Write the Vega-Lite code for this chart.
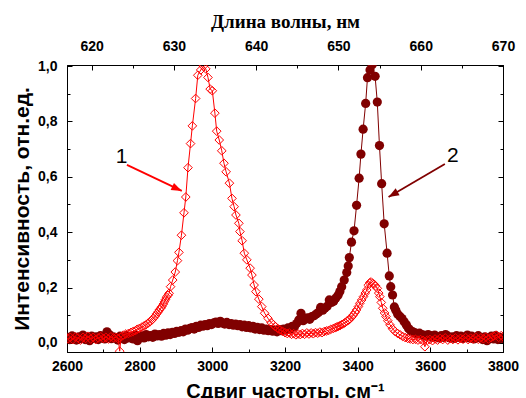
{
  "$schema": "https://vega.github.io/schema/vega-lite/v6.json",
  "width": 436,
  "height": 287,
  "autosize": "none",
  "padding": {"left": 67, "top": 65, "right": 23, "bottom": 46},
  "background": "white",
  "config": {
    "view": {"stroke": "black", "strokeWidth": 1},
    "axis": {
      "grid": false,
      "domainColor": "black",
      "tickColor": "black",
      "labelColor": "black",
      "titleColor": "black",
      "labelFont": "Liberation Sans",
      "labelFontWeight": "bold",
      "labelFontSize": 14,
      "titleFont": "Liberation Sans",
      "titleFontWeight": "bold",
      "titleFontSize": 20,
      "labelFlush": false,
      "labelOverlap": false,
      "labelBound": false
    }
  },
  "datasets": {
    "s1": [
      {"x":2602,"y":0.015},{"x":2609,"y":0.02},{"x":2616,"y":0.012},{"x":2623,"y":0.022},{"x":2630,"y":0.018},{"x":2637,"y":0.01},{"x":2644,"y":0.02},{"x":2651,"y":0.016},{"x":2658,"y":0.024},{"x":2665,"y":0.014},{"x":2672,"y":0.02},{"x":2679,"y":0.012},{"x":2686,"y":0.018},{"x":2693,"y":0.022},{"x":2700,"y":0.016},{"x":2707,"y":0.02},{"x":2714,"y":0.014},{"x":2721,"y":0.022},{"x":2728,"y":0.018},{"x":2735,"y":0.02},{"x":2741,"y":0.015},{"x":2745,"y":-0.03},{"x":2749,"y":0.022},{"x":2755,"y":0.028},{"x":2762,"y":0.032},{"x":2769,"y":0.034},{"x":2776,"y":0.038},{"x":2782,"y":0.041},{"x":2788,"y":0.044},{"x":2793,"y":0.049},{"x":2799,"y":0.052},{"x":2806,"y":0.057},{"x":2812,"y":0.061},{"x":2817,"y":0.065},{"x":2823,"y":0.071},{"x":2829,"y":0.077},{"x":2834,"y":0.083},{"x":2838,"y":0.089},{"x":2843,"y":0.097},{"x":2847,"y":0.105},{"x":2851,"y":0.112},{"x":2854,"y":0.119},{"x":2858,"y":0.125},{"x":2861,"y":0.131},{"x":2865,"y":0.14},{"x":2868,"y":0.148},{"x":2871,"y":0.156},{"x":2874,"y":0.165},{"x":2878,"y":0.172},{"x":2881,"y":0.179},{"x":2885,"y":0.203},{"x":2891,"y":0.227},{"x":2898,"y":0.256},{"x":2904,"y":0.297},{"x":2908,"y":0.327},{"x":2915,"y":0.389},{"x":2922,"y":0.47},{"x":2927,"y":0.527},{"x":2933,"y":0.633},{"x":2940,"y":0.72},{"x":2945,"y":0.784},{"x":2954,"y":0.883},{"x":2960,"y":0.967},{"x":2968,"y":0.986},{"x":2975,"y":1.0},{"x":2982,"y":0.99},{"x":2988,"y":0.959},{"x":2994,"y":0.917},{"x":3000,"y":0.911},{"x":3007,"y":0.83},{"x":3012,"y":0.765},{"x":3019,"y":0.733},{"x":3026,"y":0.694},{"x":3032,"y":0.649},{"x":3038,"y":0.618},{"x":3047,"y":0.577},{"x":3054,"y":0.522},{"x":3060,"y":0.492},{"x":3065,"y":0.462},{"x":3073,"y":0.432},{"x":3076,"y":0.402},{"x":3082,"y":0.369},{"x":3088,"y":0.324},{"x":3095,"y":0.3},{"x":3104,"y":0.27},{"x":3109,"y":0.245},{"x":3115,"y":0.209},{"x":3120,"y":0.185},{"x":3128,"y":0.158},{"x":3136,"y":0.131},{"x":3144,"y":0.107},{"x":3153,"y":0.089},{"x":3162,"y":0.073},{"x":3168,"y":0.066},{"x":3173,"y":0.059},{"x":3180,"y":0.052},{"x":3186,"y":0.047},{"x":3193,"y":0.042},{"x":3200,"y":0.037},{"x":3206,"y":0.034},{"x":3212,"y":0.036},{"x":3218,"y":0.031},{"x":3224,"y":0.033},{"x":3230,"y":0.029},{"x":3236,"y":0.032},{"x":3242,"y":0.03},{"x":3248,"y":0.034},{"x":3254,"y":0.031},{"x":3260,"y":0.036},{"x":3266,"y":0.032},{"x":3272,"y":0.036},{"x":3278,"y":0.033},{"x":3284,"y":0.037},{"x":3290,"y":0.035},{"x":3296,"y":0.039},{"x":3302,"y":0.037},{"x":3308,"y":0.041},{"x":3314,"y":0.043},{"x":3320,"y":0.045},{"x":3326,"y":0.049},{"x":3333,"y":0.052},{"x":3338,"y":0.055},{"x":3342,"y":0.057},{"x":3347,"y":0.06},{"x":3351,"y":0.062},{"x":3356,"y":0.066},{"x":3361,"y":0.069},{"x":3365,"y":0.073},{"x":3370,"y":0.078},{"x":3375,"y":0.082},{"x":3379,"y":0.087},{"x":3384,"y":0.094},{"x":3388,"y":0.101},{"x":3393,"y":0.11},{"x":3397,"y":0.119},{"x":3402,"y":0.131},{"x":3406,"y":0.143},{"x":3411,"y":0.155},{"x":3416,"y":0.167},{"x":3421,"y":0.18},{"x":3425,"y":0.191},{"x":3429,"y":0.208},{"x":3433,"y":0.217},{"x":3437,"y":0.22},{"x":3441,"y":0.215},{"x":3445,"y":0.212},{"x":3449,"y":0.206},{"x":3454,"y":0.197},{"x":3458,"y":0.18},{"x":3461,"y":0.167},{"x":3465,"y":0.146},{"x":3469,"y":0.125},{"x":3474,"y":0.108},{"x":3478,"y":0.095},{"x":3483,"y":0.08},{"x":3489,"y":0.065},{"x":3496,"y":0.051},{"x":3503,"y":0.041},{"x":3510,"y":0.034},{"x":3517,"y":0.029},{"x":3524,"y":0.023},{"x":3531,"y":0.019},{"x":3538,"y":0.016},{"x":3545,"y":0.014},{"x":3552,"y":0.012},{"x":3559,"y":0.013},{"x":3566,"y":0.01},{"x":3573,"y":0.012},{"x":3580,"y":0.009},{"x":3585,"y":-0.014},{"x":3592,"y":0.01},{"x":3599,"y":0.012},{"x":3606,"y":0.008},{"x":3613,"y":0.014},{"x":3620,"y":0.01},{"x":3627,"y":0.016},{"x":3634,"y":0.012},{"x":3641,"y":0.018},{"x":3648,"y":0.01},{"x":3655,"y":0.015},{"x":3662,"y":0.012},{"x":3669,"y":0.018},{"x":3676,"y":0.011},{"x":3683,"y":0.016},{"x":3690,"y":0.013},{"x":3697,"y":0.019},{"x":3704,"y":0.012},{"x":3711,"y":0.017},{"x":3718,"y":0.014},{"x":3725,"y":0.02},{"x":3732,"y":0.013},{"x":3739,"y":0.018},{"x":3746,"y":0.015},{"x":3753,"y":0.021},{"x":3760,"y":0.014},{"x":3767,"y":0.019},{"x":3774,"y":0.024},{"x":3781,"y":0.028},{"x":3788,"y":0.02},{"x":3795,"y":0.026},{"x":3800,"y":0.022}
    ],
    "s2": [
      {"x":2602,"y":0.02},{"x":2608,"y":0.012},{"x":2614,"y":0.025},{"x":2620,"y":0.018},{"x":2626,"y":0.01},{"x":2632,"y":0.022},{"x":2638,"y":0.015},{"x":2644,"y":0.028},{"x":2650,"y":0.012},{"x":2656,"y":0.02},{"x":2662,"y":0.008},{"x":2668,"y":0.024},{"x":2674,"y":0.016},{"x":2680,"y":0.022},{"x":2686,"y":0.012},{"x":2692,"y":0.026},{"x":2698,"y":0.018},{"x":2704,"y":0.014},{"x":2710,"y":0.04},{"x":2716,"y":0.03},{"x":2722,"y":0.015},{"x":2728,"y":0.022},{"x":2734,"y":0.018},{"x":2740,"y":0.01},{"x":2746,"y":0.024},{"x":2752,"y":0.02},{"x":2758,"y":0.012},{"x":2764,"y":0.026},{"x":2770,"y":0.018},{"x":2776,"y":0.022},{"x":2782,"y":0.014},{"x":2788,"y":0.028},{"x":2794,"y":0.008},{"x":2800,"y":0.02},{"x":2806,"y":0.025},{"x":2812,"y":0.018},{"x":2818,"y":0.03},{"x":2824,"y":0.022},{"x":2830,"y":0.026},{"x":2836,"y":0.02},{"x":2842,"y":0.032},{"x":2848,"y":0.025},{"x":2854,"y":0.03},{"x":2860,"y":0.024},{"x":2866,"y":0.034},{"x":2872,"y":0.028},{"x":2878,"y":0.036},{"x":2884,"y":0.03},{"x":2890,"y":0.038},{"x":2896,"y":0.034},{"x":2902,"y":0.042},{"x":2908,"y":0.038},{"x":2914,"y":0.044},{"x":2920,"y":0.04},{"x":2926,"y":0.05},{"x":2932,"y":0.046},{"x":2938,"y":0.052},{"x":2944,"y":0.055},{"x":2950,"y":0.05},{"x":2956,"y":0.06},{"x":2962,"y":0.056},{"x":2968,"y":0.064},{"x":2974,"y":0.06},{"x":2980,"y":0.066},{"x":2986,"y":0.062},{"x":2992,"y":0.07},{"x":2998,"y":0.066},{"x":3004,"y":0.072},{"x":3010,"y":0.075},{"x":3016,"y":0.07},{"x":3022,"y":0.078},{"x":3028,"y":0.072},{"x":3034,"y":0.068},{"x":3040,"y":0.074},{"x":3046,"y":0.066},{"x":3052,"y":0.07},{"x":3058,"y":0.064},{"x":3064,"y":0.068},{"x":3070,"y":0.062},{"x":3076,"y":0.066},{"x":3082,"y":0.058},{"x":3088,"y":0.064},{"x":3094,"y":0.056},{"x":3100,"y":0.062},{"x":3106,"y":0.054},{"x":3112,"y":0.06},{"x":3118,"y":0.05},{"x":3124,"y":0.056},{"x":3130,"y":0.048},{"x":3136,"y":0.054},{"x":3142,"y":0.046},{"x":3148,"y":0.05},{"x":3154,"y":0.044},{"x":3160,"y":0.048},{"x":3166,"y":0.042},{"x":3172,"y":0.046},{"x":3178,"y":0.04},{"x":3184,"y":0.048},{"x":3190,"y":0.044},{"x":3196,"y":0.05},{"x":3202,"y":0.046},{"x":3208,"y":0.054},{"x":3214,"y":0.05},{"x":3220,"y":0.06},{"x":3226,"y":0.058},{"x":3232,"y":0.07},{"x":3238,"y":0.083},{"x":3244,"y":0.107},{"x":3250,"y":0.08},{"x":3256,"y":0.086},{"x":3262,"y":0.09},{"x":3268,"y":0.085},{"x":3274,"y":0.095},{"x":3280,"y":0.098},{"x":3286,"y":0.104},{"x":3292,"y":0.11},{"x":3298,"y":0.128},{"x":3304,"y":0.118},{"x":3310,"y":0.126},{"x":3316,"y":0.132},{"x":3322,"y":0.155},{"x":3328,"y":0.146},{"x":3334,"y":0.15},{"x":3340,"y":0.162},{"x":3346,"y":0.172},{"x":3351,"y":0.186},{"x":3356,"y":0.203},{"x":3363,"y":0.227},{"x":3370,"y":0.254},{"x":3374,"y":0.278},{"x":3377,"y":0.308},{"x":3383,"y":0.364},{"x":3390,"y":0.405},{"x":3397,"y":0.497},{"x":3404,"y":0.595},{"x":3409,"y":0.682},{"x":3415,"y":0.772},{"x":3422,"y":0.865},{"x":3427,"y":0.958},{"x":3434,"y":0.986},{"x":3440,"y":1.005},{"x":3448,"y":0.963},{"x":3454,"y":0.87},{"x":3460,"y":0.713},{"x":3466,"y":0.575},{"x":3473,"y":0.43},{"x":3481,"y":0.324},{"x":3487,"y":0.242},{"x":3491,"y":0.203},{"x":3496,"y":0.173},{"x":3501,"y":0.13},{"x":3505,"y":0.118},{"x":3510,"y":0.104},{"x":3516,"y":0.096},{"x":3522,"y":0.088},{"x":3528,"y":0.076},{"x":3534,"y":0.065},{"x":3540,"y":0.052},{"x":3546,"y":0.044},{"x":3552,"y":0.04},{"x":3558,"y":0.036},{"x":3564,"y":0.032},{"x":3570,"y":0.035},{"x":3576,"y":0.03},{"x":3582,"y":0.028},{"x":3588,"y":0.024},{"x":3594,"y":0.03},{"x":3600,"y":0.026},{"x":3606,"y":0.02},{"x":3612,"y":0.028},{"x":3618,"y":0.022},{"x":3624,"y":0.018},{"x":3630,"y":0.026},{"x":3636,"y":0.02},{"x":3642,"y":0.03},{"x":3648,"y":0.024},{"x":3654,"y":0.018},{"x":3660,"y":0.022},{"x":3666,"y":0.016},{"x":3672,"y":0.026},{"x":3678,"y":0.02},{"x":3684,"y":0.024},{"x":3690,"y":0.016},{"x":3696,"y":0.022},{"x":3702,"y":0.028},{"x":3708,"y":0.018},{"x":3714,"y":0.024},{"x":3720,"y":0.014},{"x":3726,"y":0.02},{"x":3732,"y":0.026},{"x":3738,"y":0.018},{"x":3744,"y":0.012},{"x":3750,"y":0.022},{"x":3756,"y":0.008},{"x":3762,"y":0.016},{"x":3768,"y":0.024},{"x":3774,"y":0.014},{"x":3780,"y":0.026},{"x":3786,"y":0.012},{"x":3792,"y":0.02},{"x":3798,"y":0.016}
    ],
    "arrows": [
      {"id":"1","x":2765,"y":0.643,"x2":2916,"y2":0.549},
      {"id":"2","x":3640,"y":0.646,"x2":3485,"y2":0.527}
    ],
    "heads": [
      {"id":"1","x":2916,"y":0.549},
      {"id":"2","x":3485,"y":0.527}
    ],
    "labels": [
      {"t":"1","x":2750,"y":0.673},
      {"t":"2","x":3662,"y":0.675}
    ],
    "top": [
      {"nm":620,"r":0.5}
    ]
  },
  "layer": [
    {
      "encoding": {
        "x": {
          "field": "x", "type": "quantitative",
          "scale": {"domain": [2600, 3800], "nice": false, "zero": false},
          "axis": {
            "orient": "bottom",
            "values": [2600,2700,2800,2900,3000,3100,3200,3300,3400,3500,3600,3700,3800],
            "labelExpr": "datum.value % 200 === 0 ? format(datum.value, 'd') : ''",
            "tickSize": {"condition": {"test": "datum.value % 200 === 0", "value": -5}, "value": -3},
            "labelPadding": 12,
            "title": "Сдвиг частоты, см⁻¹",
            "titlePadding": 6
          }
        },
        "y": {
          "field": "y", "type": "quantitative",
          "scale": {"domain": [-0.033, 1.004], "nice": false, "zero": false},
          "axis": {
            "orient": "left",
            "values": [0,0.1,0.2,0.3,0.4,0.5,0.6,0.7,0.8,0.9,1.0],
            "labelExpr": "round(datum.value*10) % 2 === 0 ? replace(format(datum.value, '.1f'), '.', ',') : ''",
            "tickSize": {"condition": {"test": "round(datum.value*10) % 2 === 0", "value": -5}, "value": -3},
            "labelPadding": 15,
            "title": "Интенсивность, отн.ед.",
            "titleFontSize": 21,
            "titlePadding": 5
          }
        }
      },
      "layer": [
        {"data": {"name": "s2"}, "mark": {"type": "line", "color": "#800000", "strokeWidth": 1, "clip": true}},
        {"data": {"name": "s2"}, "mark": {"type": "point", "shape": "circle", "filled": true, "color": "#800000", "opacity": 1, "size": 85, "clip": true}},
        {"data": {"name": "s1"}, "mark": {"type": "line", "color": "#ff0000", "strokeWidth": 1, "clip": true}},
        {"data": {"name": "s1"}, "mark": {"type": "point", "shape": "diamond", "filled": false, "color": "#ff0000", "opacity": 1, "strokeWidth": 1, "size": 75, "clip": true}},
        {
          "data": {"name": "arrows"},
          "mark": {"type": "rule", "strokeWidth": 1.8},
          "encoding": {
            "x2": {"field": "x2"}, "y2": {"field": "y2"},
            "color": {"field": "id", "type": "nominal", "scale": {"domain": ["1","2"], "range": ["#ff0000","#800000"]}, "legend": null}
          }
        },
        {
          "data": {"name": "heads"},
          "transform": [{"filter": "datum.id === '1'"}],
          "mark": {"type": "point", "shape": "M0,0L-2,-0.75L-2,0.75Z", "filled": true, "opacity": 1, "size": 110, "angle": 25},
          "encoding": {
            "color": {"field": "id", "type": "nominal", "scale": {"domain": ["1","2"], "range": ["#ff0000","#800000"]}, "legend": null}
          }
        },
        {
          "data": {"name": "heads"},
          "transform": [{"filter": "datum.id === '2'"}],
          "mark": {"type": "point", "shape": "M0,0L-2,-0.75L-2,0.75Z", "filled": true, "opacity": 1, "size": 110, "angle": 150},
          "encoding": {
            "color": {"field": "id", "type": "nominal", "scale": {"domain": ["1","2"], "range": ["#ff0000","#800000"]}, "legend": null}
          }
        },
        {
          "data": {"name": "labels"},
          "mark": {"type": "text", "font": "Liberation Sans", "fontSize": 21, "color": "black", "align": "center", "baseline": "middle"},
          "encoding": {"text": {"field": "t"}}
        }
      ]
    },
    {
      "data": {"name": "top"},
      "mark": {"type": "point", "opacity": 0},
      "encoding": {
        "x": {
          "field": "nm", "type": "quantitative",
          "scale": {"domain": [617, 670], "nice": false, "zero": false},
          "axis": {
            "orient": "top",
            "values": [620,625,630,635,640,645,650,655,660,665,670],
            "labelExpr": "datum.value % 10 === 0 ? format(datum.value, 'd') : ''",
            "tickSize": {"condition": {"test": "datum.value % 10 === 0", "value": -5}, "value": -3},
            "labelPadding": 17,
            "title": "Длина волны, нм",
            "titleFont": "Liberation Serif",
            "titleFontSize": 19,
            "titlePadding": 6
          }
        },
        "y": {
          "field": "r", "type": "quantitative",
          "scale": {"domain": [-0.033, 1.004], "nice": false, "zero": false},
          "axis": {
            "orient": "right",
            "values": [0,0.1,0.2,0.3,0.4,0.5,0.6,0.7,0.8,0.9,1.0],
            "labels": false,
            "tickSize": {"condition": {"test": "round(datum.value*10) % 2 === 0", "value": -5}, "value": -3},
            "title": null
          }
        }
      }
    }
  ],
  "resolve": {"scale": {"x": "independent", "y": "independent"}}
}
